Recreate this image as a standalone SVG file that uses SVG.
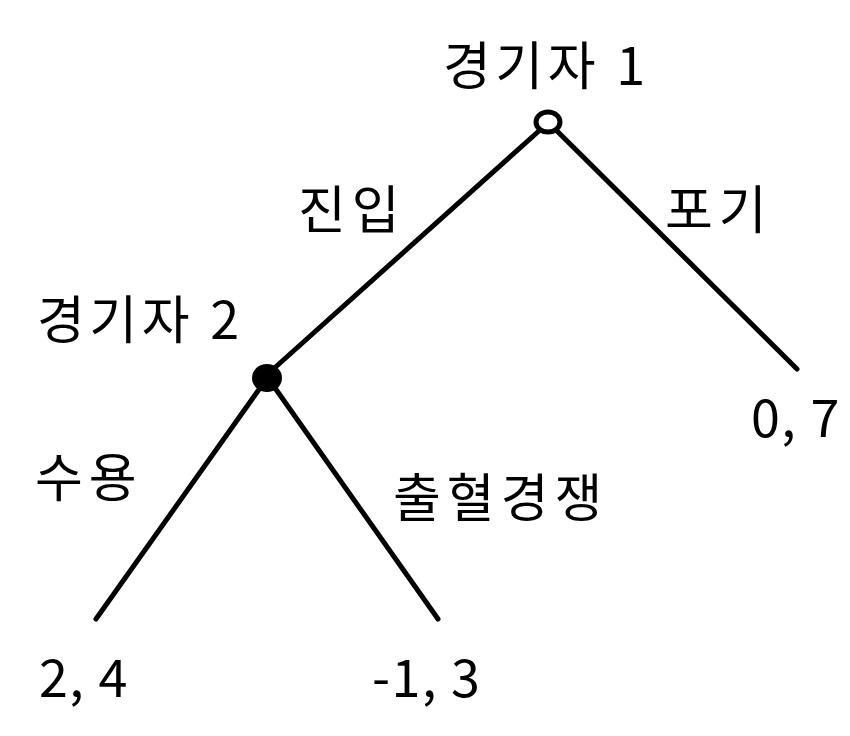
<svg xmlns="http://www.w3.org/2000/svg" width="850" height="736" viewBox="0 0 850 736">
<style>
text{font-family:"Noto Sans CJK KR","Noto Sans",sans-serif;font-size:52px;letter-spacing:1.5px;fill:#000}
.p{letter-spacing:4.5px}
.h{letter-spacing:6px}
.e{stroke:#000;stroke-width:5;stroke-linecap:round;fill:none}
</style>
<rect width="850" height="736" fill="#fff"/>
<g id="connectors">
<line class="e" x1="540" y1="130" x2="270" y2="372"/>
<line class="e" x1="556" y1="130" x2="797" y2="369"/>
<line class="e" x1="260" y1="388" x2="96" y2="619"/>
<line class="e" x1="275" y1="388" x2="438" y2="619"/>
</g>
<g id="player1">
<ellipse cx="548" cy="122" rx="12" ry="10" fill="#fff" stroke="#000" stroke-width="5"/>
<text class="p" x="443" y="85">경기자 1</text>
</g>
<g id="player2">
<ellipse cx="267" cy="378" rx="15" ry="14" fill="#000"/>
<text class="p" x="37" y="339">경기자 2</text>
</g>
<g id="labels">
<text class="h" x="298" y="229">진입</text>
<text class="h" x="665" y="229">포기</text>
<text class="h" x="35" y="497">수용</text>
<text class="h" x="393" y="517">출혈경쟁</text>
</g>
<g id="payoffs">
<text x="39" y="697">2, 4</text>
<text x="372" y="697">-1, 3</text>
<text x="751" y="437">0, 7</text>
</g>
</svg>
